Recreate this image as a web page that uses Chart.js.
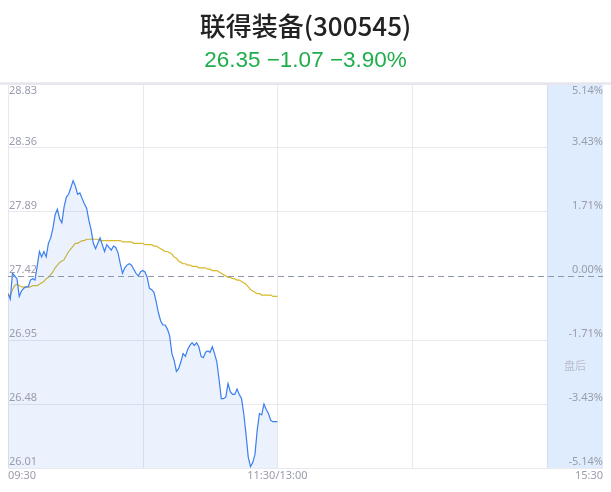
<!DOCTYPE html>
<html>
<head>
<meta charset="utf-8">
<script src="https://cdn.jsdelivr.net/npm/chart.js@4.4.1/dist/chart.umd.min.js"></script>
<style>
body{margin:0;background:#fff;font-family:"Noto Sans CJK SC","Noto Sans",sans-serif;}
#wrap{position:relative;width:611px;height:492px;}
#title{position:absolute;left:0;top:7px;width:611px;text-align:center;font-size:26px;font-weight:500;color:#222;line-height:36px;}
#sub{position:absolute;left:0;top:45px;width:611px;text-align:center;font-size:22.5px;color:#1fae4b;line-height:30px;font-family:"Liberation Sans",Arial,sans-serif;}
canvas{position:absolute;left:0;top:0;}
</style>
</head>
<body>
<div id="wrap">
<canvas id="priceChart" width="611" height="492"></canvas>
<div id="title">联得装备(300545)</div>
<div id="sub">26.35 −1.07 −3.90%</div>
</div>
<script>

// previous close and axis ticks
const prevClose = 27.42;
const priceTicks = [26.01, 26.48, 26.95, 27.42, 27.89, 28.36, 28.83];
const pctTicks = ["-5.14%", "-3.43%", "-1.71%", "0.00%", "1.71%", "3.43%", "5.14%"];

// minutes from 09:30 (after 11:30 the clock jumps to 13:00)
const timeTicks = [0, 120, 265];
const timeLabels = ["09:30", "11:30/13:00", "15:30"];
const gridMinutes = [0, 60, 120, 180, 240];
const closeMinute = 240;
const endMinute = 265;

// one value per minute, 09:30 - 11:30
const prices = [
27.29,27.25,27.44,27.42,27.40,27.27,27.31,27.33,27.34,27.34,
27.39,27.40,27.39,27.49,27.60,27.56,27.60,27.56,27.66,27.70,
27.77,27.87,27.91,27.84,27.81,27.93,28.00,28.02,28.07,28.12,
28.08,28.02,28.03,27.99,27.95,27.92,27.83,27.76,27.66,27.62,
27.66,27.70,27.65,27.60,27.65,27.63,27.61,27.64,27.63,27.59,
27.51,27.44,27.48,27.50,27.51,27.50,27.47,27.44,27.42,27.45,
27.46,27.45,27.41,27.33,27.32,27.30,27.23,27.15,27.09,27.06,
27.06,27.03,26.98,26.85,26.80,26.72,26.74,26.79,26.85,26.83,
26.88,26.91,26.93,26.91,26.93,26.90,26.83,26.82,26.86,26.87,
26.86,26.90,26.85,26.79,26.66,26.52,26.52,26.53,26.63,26.57,
26.55,26.55,26.59,26.55,26.52,26.41,26.26,26.09,26.02,26.05,
26.11,26.29,26.41,26.40,26.48,26.44,26.41,26.36,26.35,26.35,
26.35
];

const avgPrices = [
27.29,27.27,27.32,27.35,27.36,27.35,27.34,27.34,27.34,27.34,
27.34,27.35,27.35,27.35,27.36,27.37,27.38,27.40,27.41,27.43,
27.45,27.48,27.50,27.52,27.53,27.54,27.57,27.60,27.62,27.64,
27.66,27.66,27.67,27.68,27.68,27.69,27.69,27.69,27.69,27.69,
27.69,27.68,27.68,27.68,27.68,27.68,27.68,27.68,27.68,27.68,
27.68,27.67,27.67,27.67,27.67,27.67,27.66,27.66,27.66,27.66,
27.66,27.65,27.65,27.65,27.65,27.64,27.64,27.63,27.62,27.61,
27.60,27.60,27.59,27.58,27.56,27.55,27.53,27.52,27.51,27.51,
27.50,27.50,27.49,27.49,27.49,27.48,27.48,27.48,27.48,27.47,
27.47,27.46,27.46,27.46,27.45,27.44,27.43,27.42,27.41,27.41,
27.40,27.40,27.39,27.39,27.38,27.37,27.36,27.34,27.32,27.31,
27.30,27.29,27.29,27.28,27.28,27.28,27.28,27.28,27.27,27.27,
27.27
];

const priceData = prices.map((p, i) => ({x: i, y: p}));
const avgData = avgPrices.map((p, i) => ({x: i, y: p}));

const labelColor = "#9a9cad";
const gridColor = "#e8e8ee";

const decor = {
  id: "decor",
  beforeDatasetsDraw(chart){
    const ctx = chart.ctx, a = chart.chartArea;
    const xs = chart.scales.x;
    ctx.save();
    // vertical grid
    ctx.strokeStyle = gridColor;
    ctx.lineWidth = 1;
    gridMinutes.forEach(m => {
      const x = Math.round(xs.getPixelForValue(m)) + 0.5;
      ctx.beginPath(); ctx.moveTo(x, a.top); ctx.lineTo(x, a.bottom); ctx.stroke();
    });
    // after hours band
    const bx = xs.getPixelForValue(closeMinute);
    const ex = xs.getPixelForValue(endMinute);
    ctx.fillStyle = "#deecfd";
    ctx.fillRect(bx, a.top, ex - bx, a.bottom - a.top);
    ctx.strokeStyle = "#d3e0f2";
    ctx.beginPath(); ctx.moveTo(Math.round(bx) + 0.5, a.top); ctx.lineTo(Math.round(bx) + 0.5, a.bottom); ctx.stroke();
    // bottom line
    ctx.strokeStyle = gridColor;
    ctx.beginPath(); ctx.moveTo(a.left, Math.round(a.bottom) + 0.5); ctx.lineTo(a.right, Math.round(a.bottom) + 0.5); ctx.stroke();
    // top border
    ctx.strokeStyle = "#e6e6ec";
    ctx.lineWidth = 2.5;
    ctx.beginPath(); ctx.moveTo(0, a.top - 0.5); ctx.lineTo(chart.width, a.top - 0.5); ctx.stroke();
    ctx.restore();
  },
  afterDatasetsDraw(chart){
    const ctx = chart.ctx, a = chart.chartArea;
    const ys = chart.scales.y, xs = chart.scales.x;
    ctx.save();
    // previous close dashed line
    const y0 = Math.round(ys.getPixelForValue(prevClose)) + 0.5;
    ctx.strokeStyle = "#8d97b0";
    ctx.lineWidth = 1;
    ctx.setLineDash([6, 4]);
    ctx.beginPath(); ctx.moveTo(a.left, y0); ctx.lineTo(a.right, y0); ctx.stroke();
    ctx.setLineDash([]);

    ctx.font = "11px 'Noto Sans', sans-serif";
    ctx.fillStyle = labelColor;
    priceTicks.forEach((v, i) => {
      const y = ys.getPixelForValue(v);
      const top = i === priceTicks.length - 1;
      ctx.textBaseline = top ? "top" : "bottom";
      const ty = top ? y + 1 : y - 1;
      ctx.textAlign = "left";
      ctx.fillText(v.toFixed(2), a.left + 1, ty);
      ctx.textAlign = "right";
      ctx.fillText(pctTicks[i], a.right, ty);
    });

    ctx.textBaseline = "top";
    timeTicks.forEach((m, i) => {
      const x = xs.getPixelForValue(m);
      ctx.textAlign = i === 0 ? "left" : (i === timeTicks.length - 1 ? "right" : "center");
      ctx.fillText(timeLabels[i], x, a.bottom + 2);
    });

    ctx.fillStyle = "#b9bdcc";
    ctx.font = "11px 'Noto Sans CJK SC', sans-serif";
    ctx.textAlign = "center";
    ctx.textBaseline = "middle";
    ctx.fillText("盘后", (xs.getPixelForValue(closeMinute) + xs.getPixelForValue(endMinute)) / 2, 366);
    ctx.restore();
  }
};

new Chart(document.getElementById("priceChart"), {
  type: "line",
  data: {
    datasets: [{
      label: "价格",
      data: priceData,
      borderColor: "#3a7ef0",
      borderWidth: 1.2,
      backgroundColor: "rgba(58,126,240,0.1)",
      fill: "start",
      pointRadius: 0,
      tension: 0
    }, {
      label: "均价",
      data: avgData,
      borderColor: "#d6b92c",
      borderWidth: 1.2,
      fill: false,
      pointRadius: 0,
      tension: 0
    }]
  },
  options: {
    responsive: false,
    animation: false,
    layout: {padding: {left: 8, right: 8, top: 84, bottom: 24}},
    plugins: {legend: {display: false}, tooltip: {enabled: false}},
    scales: {
      x: {
        type: "linear",
        min: 0,
        max: endMinute,
        display: false
      },
      y: {
        min: priceTicks[0],
        max: priceTicks[priceTicks.length - 1],
        display: true,
        afterBuildTicks(axis){ axis.ticks = priceTicks.map(v => ({value: v})); },
        ticks: {display: false},
        border: {display: false},
        grid: {
          drawTicks: false,
          color: ctx => ctx.tick && ctx.tick.value === prevClose ? "rgba(0,0,0,0)" : gridColor
        }
      }
    }
  },
  plugins: [decor]
});
</script>
</body>
</html>
